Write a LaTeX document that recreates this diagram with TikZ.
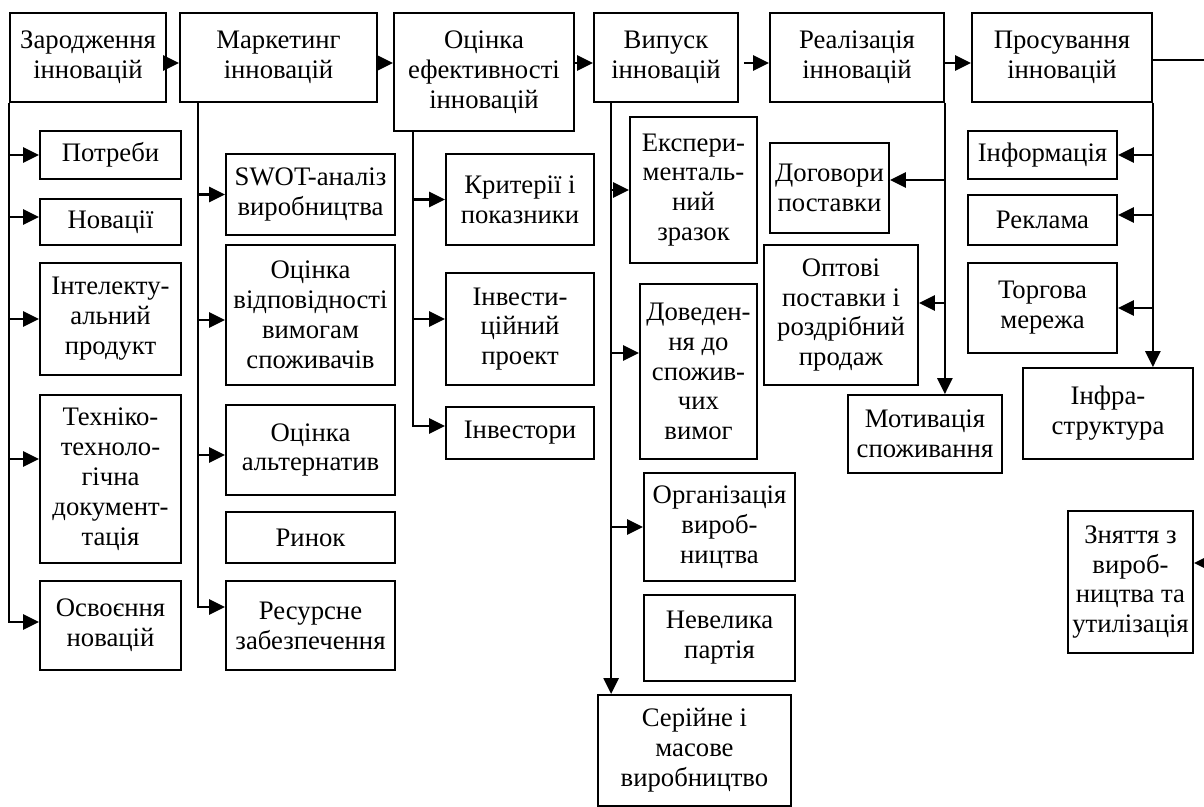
\documentclass[tikz,border=0pt]{standalone}
\usepackage{fontspec}
\setmainfont{Liberation Serif}
\usetikzlibrary{arrows.meta}

\tikzset{
  blok/.style={draw, line width=1pt, align=center, inner sep=1pt,
    font=\fontsize{15.2}{17}\selectfont},
  strilka/.style={line width=1.5pt, -{Triangle[length=0.32cm,width=0.3cm]}}
}

\begin{document}
\begin{tikzpicture}
        \useasboundingbox (0,0) rectangle (24.08,-16.14);
        % top row of stages
        \node[blok, minimum width=3.12cm, minimum height=1.78cm] (zarod) at (1.76,-1.15) {Зародження\\інновацій};
        \node[blok, minimum width=3.94cm, minimum height=1.78cm] (market) at (5.57,-1.15) {Маркетинг\\інновацій};
        \node[blok, minimum width=3.60cm, minimum height=2.36cm] (otsinka) at (9.68,-1.44) {Оцінка\\ефективності\\інновацій};
        \node[blok, minimum width=2.88cm, minimum height=1.78cm] (vypusk) at (13.32,-1.15) {Випуск\\інновацій};
        \node[blok, minimum width=3.48cm, minimum height=1.78cm] (realiz) at (17.14,-1.15) {Реалізація\\інновацій};
        \node[blok, minimum width=3.60cm, minimum height=1.78cm] (prosuv) at (21.24,-1.15) {Просування\\інновацій};

        % first column
        \node[blok, minimum width=2.82cm, minimum height=0.96cm] (potreby) at (2.21,-3.10) {Потреби};
        \node[blok, minimum width=2.82cm, minimum height=0.92cm] (novacii) at (2.21,-4.44) {Новації};
        \node[blok, minimum width=2.82cm, minimum height=2.24cm] (intel) at (2.21,-6.38) {Інтелекту-\\альний\\продукт};
        \node[blok, minimum width=2.82cm, minimum height=3.36cm] (tekhn) at (2.21,-9.58) {Техніко-\\техноло-\\гічна\\документ-\\тація};
        \node[blok, minimum width=2.82cm, minimum height=1.78cm] (osvoen) at (2.21,-12.51) {Освоєння\\новацій};

        % second column
        \node[blok, minimum width=3.38cm, minimum height=1.62cm] (swot) at (6.21,-3.89) {SWOT-аналіз\\виробництва};
        \node[blok, minimum width=3.38cm, minimum height=2.80cm] (vidpov) at (6.21,-6.30) {Оцінка\\відповідності\\вимогам\\споживачів};
        \node[blok, minimum width=3.38cm, minimum height=1.80cm] (alter) at (6.21,-9.00) {Оцінка\\альтернатив};
        \node[blok, minimum width=3.38cm, minimum height=1.02cm] (rynok) at (6.21,-10.75) {Ринок};
        \node[blok, minimum width=3.38cm, minimum height=1.78cm] (resurs) at (6.21,-12.51) {Ресурсне\\забезпечення};

        % third column
        \node[blok, minimum width=2.96cm, minimum height=1.82cm] (kryter) at (10.40,-3.99) {Критерії і\\показники};
        \node[blok, minimum width=2.96cm, minimum height=2.24cm] (invproj) at (10.40,-6.58) {Інвести-\\ційний\\проект};
        \node[blok, minimum width=2.96cm, minimum height=1.04cm] (investory) at (10.40,-8.66) {Інвестори};

        % fourth column
        \node[blok, minimum width=2.54cm, minimum height=2.92cm] (eksper) at (13.87,-3.80) {Експери-\\менталь-\\ний\\зразок};
        \node[blok, minimum width=2.34cm, minimum height=3.50cm] (doved) at (13.97,-7.43) {Доведен-\\ня до\\спожив-\\чих\\вимог};
        \node[blok, minimum width=3.02cm, minimum height=2.16cm] (orghan) at (14.39,-10.54) {Організація\\вироб-\\ництва};
        \node[blok, minimum width=3.02cm, minimum height=1.72cm] (nevel) at (14.39,-12.76) {Невелика\\партія};
        \node[blok, minimum width=3.86cm, minimum height=2.22cm] (seriyne) at (13.89,-15.01) {Серійне і\\масове\\виробництво};

        % fifth column
        \node[blok, minimum width=2.38cm, minimum height=1.80cm] (dogovory) at (16.59,-3.76) {Договори\\поставки};
        \node[blok, minimum width=3.08cm, minimum height=2.80cm] (optovi) at (16.82,-6.30) {Оптові\\поставки і\\роздрібний\\продаж};
        \node[blok, minimum width=3.08cm, minimum height=1.56cm] (motyv) at (18.50,-8.68) {Мотивація\\споживання};

        % sixth column
        \node[blok, minimum width=2.98cm, minimum height=0.96cm] (inform) at (20.85,-3.10) {Інформація};
        \node[blok, minimum width=2.98cm, minimum height=1.00cm] (reklama) at (20.85,-4.40) {Реклама};
        \node[blok, minimum width=2.98cm, minimum height=1.80cm] (torgova) at (20.85,-6.16) {Торгова\\мережа};
        \node[blok, minimum width=3.40cm, minimum height=1.82cm] (infra) at (22.16,-8.27) {Інфра-\\структура};
        \node[blok, minimum width=2.50cm, minimum height=2.84cm] (znyattya) at (22.61,-11.64) {Зняття з\\вироб-\\ництва та\\утилізація};

        % arrows along the top row
        \draw[strilka] ([yshift=-0.11cm]zarod.east) -- ([yshift=-0.11cm]market.west);
        \draw[strilka] ([yshift=-0.11cm]market.east) -- ([yshift=-0.11cm]market.east -| otsinka.west);
        \draw[strilka] ([yshift=-0.11cm]vypusk.west -| otsinka.east) -- ([yshift=-0.11cm]vypusk.west);
        \draw[strilka] ([xshift=0.1cm,yshift=-0.11cm]vypusk.east) -- ([yshift=-0.11cm]realiz.west);
        \draw[strilka] ([xshift=-0.04cm,yshift=-0.11cm]realiz.east) -- ([yshift=-0.11cm]prosuv.west);

        % first column
        \draw[strilka] (zarod.south west) |- (potreby.west);
        \draw[strilka] (zarod.south west) |- ([yshift=0.1cm]novacii.west);
        \draw[strilka] (zarod.south west) |- (intel.west);
        \draw[strilka] (zarod.south west) |- ([yshift=0.4cm]tekhn.west);
        \draw[strilka] (zarod.south west) |- ([yshift=0.07cm]osvoen.west);

        % second column
        \draw[strilka] ([xshift=0.38cm]market.south west) |- (swot.west);
        \draw[strilka] ([xshift=0.38cm]market.south west) |- ([yshift=-0.1cm]vidpov.west);
        \draw[strilka] ([xshift=0.38cm]market.south west) |- ([yshift=-0.1cm]alter.west);
        \draw[strilka] ([xshift=0.38cm]market.south west) |- ([yshift=0.37cm]resurs.west);

        % third column
        \draw[strilka] ([xshift=0.4cm]otsinka.south west) |- (kryter.west);
        \draw[strilka] ([xshift=0.4cm]otsinka.south west) |- ([yshift=0.2cm]invproj.west);
        \draw[strilka] ([xshift=0.4cm]otsinka.south west) |- ([yshift=0.14cm]investory.west);

        % fourth column
        \draw[strilka] ([xshift=0.36cm]vypusk.south west) |- (eksper.west);
        \draw[strilka] ([xshift=0.36cm]vypusk.south west) |- ([yshift=0.37cm]doved.west);
        \draw[strilka] ([xshift=0.36cm]vypusk.south west) |- (orghan.west);
        \draw[strilka] ([xshift=0.36cm]vypusk.south west) -- ([xshift=0.36cm]vypusk.south west |- seriyne.north);

        % fifth column
        \draw[strilka] (realiz.south east) |- ([yshift=0.16cm]dogovory.east);
        \draw[strilka] (realiz.south east) |- ([yshift=0.24cm]optovi.east);
        \draw[strilka] (realiz.south east) -- (realiz.south east |- motyv.north);

        % sixth column
        \draw[strilka] (prosuv.south east) |- (inform.east);
        \draw[strilka] (prosuv.south east) |- ([yshift=0.1cm]reklama.east);
        \draw[strilka] (prosuv.south east) |- (torgova.east);
        \draw[strilka] (prosuv.south east) -- (prosuv.south east |- infra.north);
        \draw[strilka] ([yshift=-0.05cm]prosuv.east) -- ++(1.1,0) |- ([yshift=0.38cm]znyattya.east);
\end{tikzpicture}
\end{document}
